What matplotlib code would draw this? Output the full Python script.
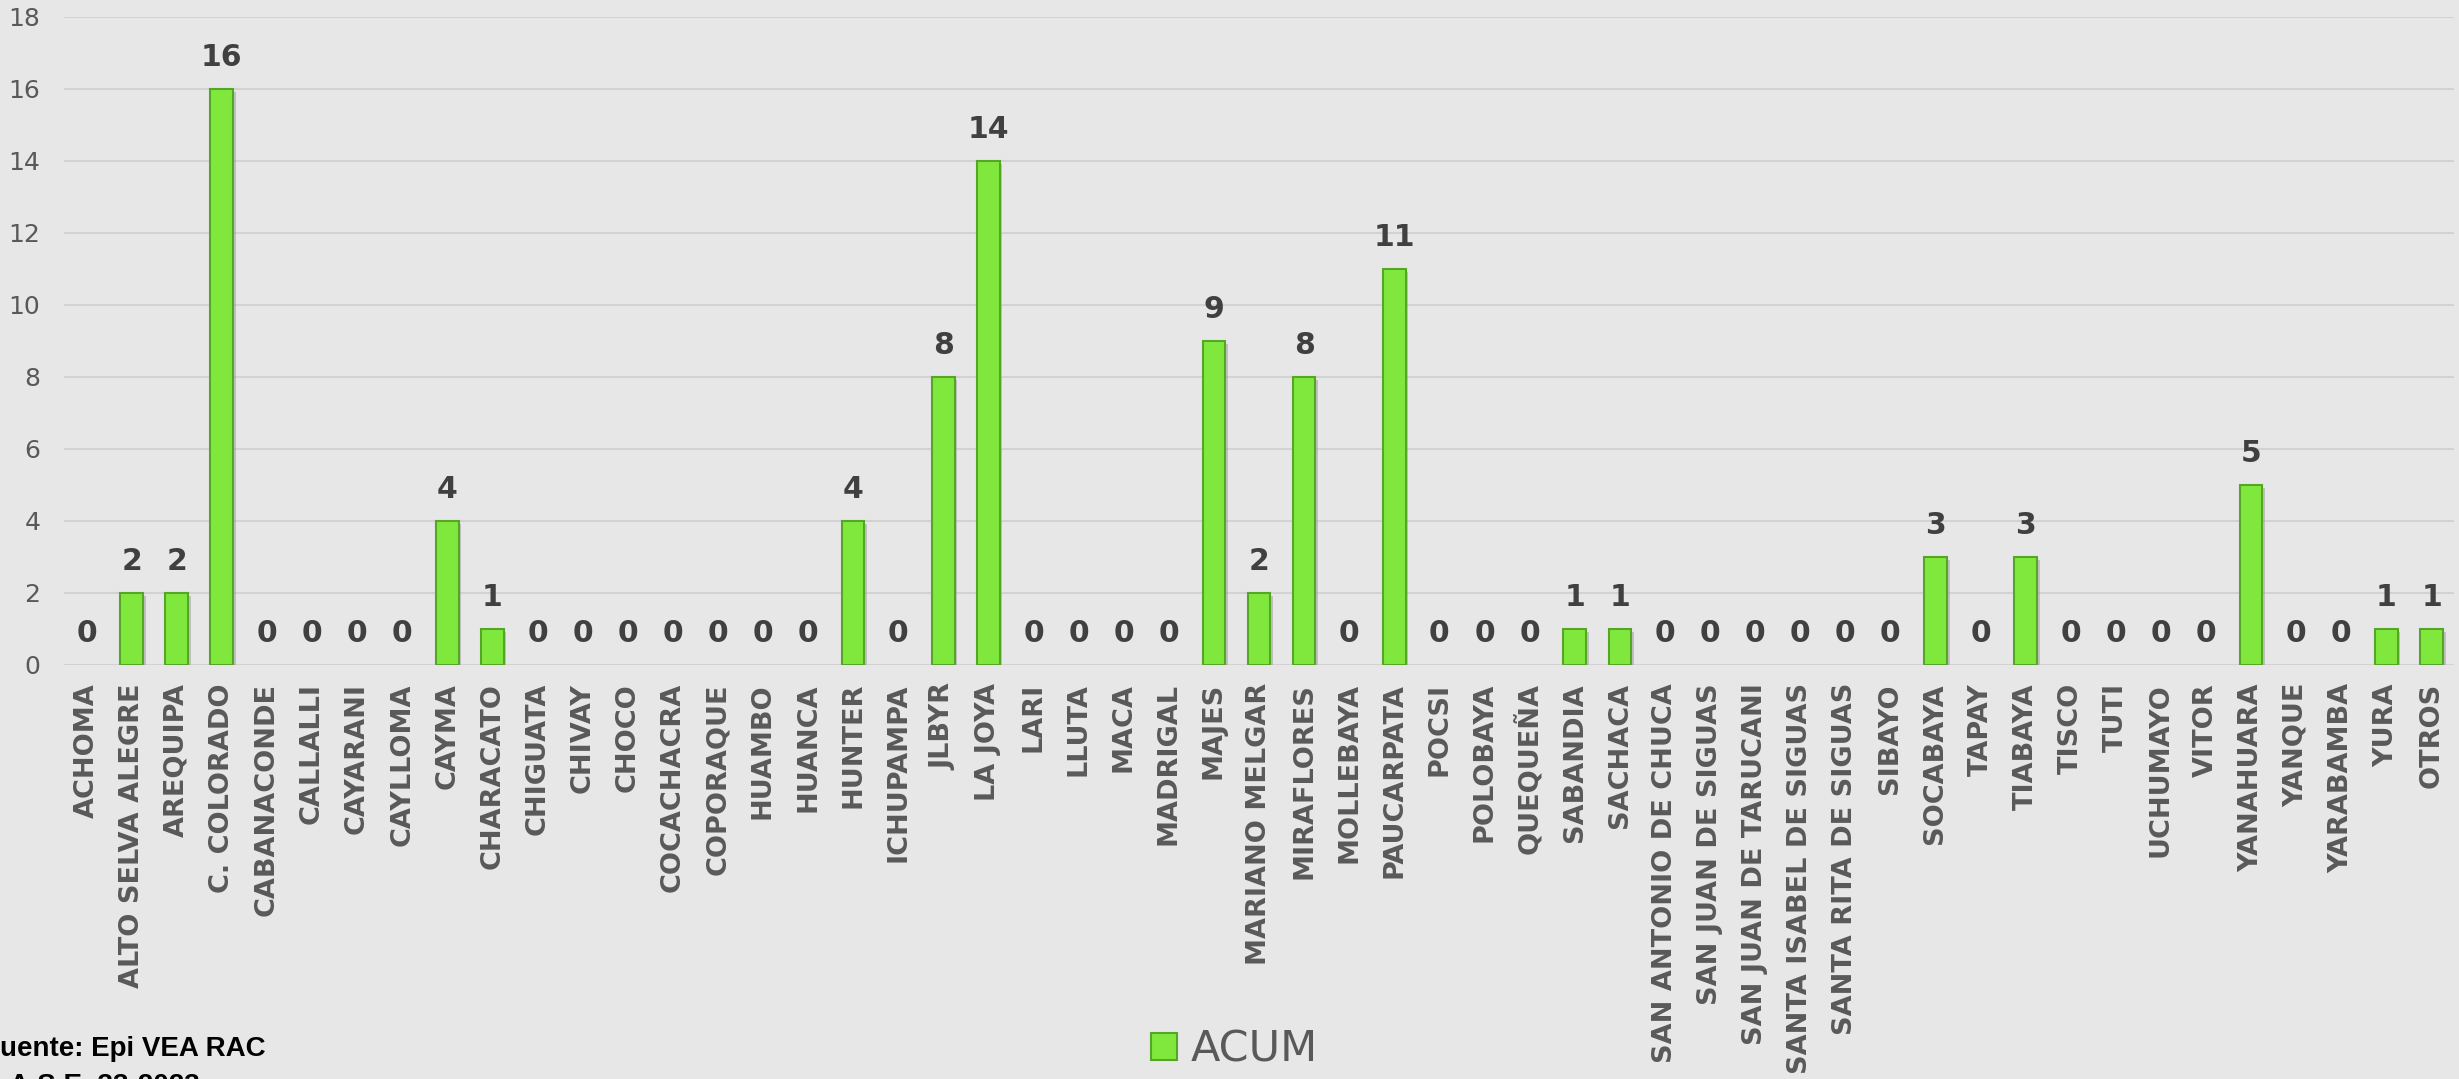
import matplotlib.pyplot as plt
import matplotlib.patheffects as pe
from matplotlib.patches import Patch

distritos = ['ACHOMA', 'ALTO SELVA ALEGRE', 'AREQUIPA', 'C. COLORADO', 'CABANACONDE', 'CALLALLI',
             'CAYARANI', 'CAYLLOMA', 'CAYMA', 'CHARACATO', 'CHIGUATA', 'CHIVAY', 'CHOCO',
             'COCACHACRA', 'COPORAQUE', 'HUAMBO', 'HUANCA', 'HUNTER', 'ICHUPAMPA', 'JLBYR',
             'LA JOYA', 'LARI', 'LLUTA', 'MACA', 'MADRIGAL', 'MAJES', 'MARIANO MELGAR',
             'MIRAFLORES', 'MOLLEBAYA', 'PAUCARPATA', 'POCSI', 'POLOBAYA', 'QUEQUEÑA',
             'SABANDIA', 'SACHACA', 'SAN ANTONIO DE CHUCA', 'SAN JUAN DE SIGUAS',
             'SAN JUAN DE TARUCANI', 'SANTA ISABEL DE SIGUAS', 'SANTA RITA DE SIGUAS', 'SIBAYO',
             'SOCABAYA', 'TAPAY', 'TIABAYA', 'TISCO', 'TUTI', 'UCHUMAYO', 'VITOR', 'YANAHUARA',
             'YANQUE', 'YARABAMBA', 'YURA', 'OTROS']
acum = [0, 2, 2, 16, 0, 0, 0, 0, 4, 1, 0, 0, 0, 0, 0, 0, 0, 4, 0, 8, 14, 0, 0, 0, 0, 9, 2,
        8, 0, 11, 0, 0, 0, 1, 1, 0, 0, 0, 0, 0, 0, 3, 0, 3, 0, 0, 0, 0, 5, 0, 0, 1, 1]
yticks = [0, 2, 4, 6, 8, 10, 12, 14, 16, 18]

bg = '#E7E7E7'
verde = '#80E83C'
borde = '#55A526'
fig = plt.figure(figsize=(24.59, 10.79), dpi=100, facecolor=bg)
ax = fig.add_axes([0.026, 0.3837, 0.972, 0.6006], facecolor=bg)

x = list(range(len(distritos)))
bars = ax.bar(x, acum, width=0.5, color=verde, edgecolor=borde, linewidth=1.5, zorder=3)
for b, v in zip(bars, acum):
    if v == 0:
        b.set_visible(False)  # excel no dibuja nada para 0
        continue
    b.set_path_effects([pe.SimplePatchShadow(offset=(2, -2), shadow_rgbFace='#9A9A9A', alpha=0.5),
                        pe.Normal()])

for xi, v in zip(x, acum):
    ax.annotate(str(v), (xi, v), xytext=(0, 12), textcoords='offset points',
                ha='center', va='bottom', fontsize=21.5, fontweight='bold', color='#404040')

ax.set_xlim(-0.5, len(distritos) - 0.5)
ax.set_ylim(0, 18)
ax.set_yticks(yticks)
ax.yaxis.grid(True, color='#D2D2D2', linewidth=1.5, zorder=0)
ax.axhline(0, color='#CFCFCF', linewidth=2, zorder=1)
for s in ax.spines.values():
    s.set_visible(False)
ax.set_xticks(x)
ax.set_xticklabels(distritos, rotation=90, fontsize=19.5, fontweight='bold', color='#595959')
ax.tick_params(axis='x', length=0, pad=13)
ax.tick_params(axis='y', length=0, pad=17, labelsize=18, labelcolor='#595959')

h = Patch(facecolor=verde, edgecolor=borde, linewidth=1.5)
fig.legend([h], ['ACUM'], loc='center', bbox_to_anchor=(0.502, 0.027), frameon=False, fontsize=31,
           labelcolor='#595959', handlelength=0.6, handleheight=0.6, handletextpad=0.3)

# pie de fuente, cortado en el borde como en el original
fig.text(-0.007, 0.021, 'Fuente: Epi VEA RAC', fontsize=20, fontweight='bold',
         family='Liberation Sans', color='black', va='baseline', ha='left')
fig.text(-0.007, -0.013, 'S.A.S.E. 33-2023', fontsize=20, fontweight='bold',
         family='Liberation Sans', color='black', va='baseline', ha='left')

plt.savefig('out.png', dpi=100, facecolor=bg)
